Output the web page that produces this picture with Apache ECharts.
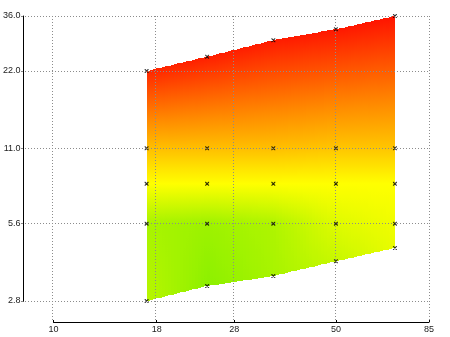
<!DOCTYPE html>
<html>
<head>
<meta charset="utf-8">
<script src="https://cdn.jsdelivr.net/npm/echarts@6/dist/echarts.min.js"></script>
<style>
  html, body { margin: 0; padding: 0; background: #fff; }
  #chart { width: 450px; height: 337px; }
</style>
</head>
<body>
<div id="chart"></div>
<script>
// Grid columns (x) and the rows of each column (y), both on log scales
const xValues = [17, 24, 35, 50, 70];
const yBottom = [2.8, 3.2, 3.5, 4.0, 4.5];
const yMiddle = [5.6, 8.0, 11.0];
const yTop = [22, 25, 29, 32, 36];

// Response level at each grid node (0 = low/green, 1 = high/red)
const zBottom = [0.13, 0.0, 0.08, 0.17, 0.27];
const z56 = [0.08, 0.05, 0.10, 0.24, 0.29];
const z80 = [0.333, 0.333, 0.333, 0.333, 0.333];
const z110 = [0.52, 0.52, 0.52, 0.50, 0.50];
const zTop = [0.95, 0.97, 0.98, 0.99, 1.0];

// Axis tick labels
const xTicks = [10, 18, 28, 50, 85];
const yTicks = [2.8, 5.6, 11.0, 22.0, 36.0];

const rampColors = ['#8cf000', '#ffff00', '#ff8c00', '#ff1400'];

// Layout of the offset axes
const plotLeft = 52, plotRight = 21, plotTop = 16, plotBottom = 36;
const yAxisGap = 30, xAxisGap = 21;
const plotW = 450 - plotLeft - plotRight;
const plotH = 337 - plotTop - plotBottom;
const xMin = xTicks[0], xMax = xTicks[xTicks.length - 1];
const yMin = yTicks[0], yMax = yTicks[yTicks.length - 1];
const xMinExt = Math.exp(Math.log(xMin) - yAxisGap / plotW * Math.log(xMax / xMin));
const yMinExt = Math.exp(Math.log(yMin) - xAxisGap / plotH * Math.log(yMax / yMin));

function hexToRgb(h) {
  return [parseInt(h.slice(1, 3), 16), parseInt(h.slice(3, 5), 16), parseInt(h.slice(5, 7), 16)];
}
const rampRgb = rampColors.map(hexToRgb);
function rampColor(z) {
  z = Math.max(0, Math.min(1, z));
  const pos = z * (rampRgb.length - 1);
  const i = Math.min(rampRgb.length - 2, Math.floor(pos));
  const f = pos - i;
  const a = rampRgb[i], b = rampRgb[i + 1];
  return 'rgb(' + a.map((c, k) => Math.round(c + (b[k] - c) * f)).join(',') + ')';
}

function columnRows(i) { return [yBottom[i]].concat(yMiddle, [yTop[i]]); }
function columnLevels(i) { return [zBottom[i], z56[i], z80[i], z110[i], zTop[i]]; }

// One custom item per cell between two neighbouring columns
const cellData = xValues.slice(0, -1).map((x, i) => [x, yBottom[i], i]);

// Grid nodes shown as markers
const nodeData = [];
xValues.forEach((x, i) => columnRows(i).forEach(y => nodeData.push([x, y])));

function renderCell(params, api) {
  const i = params.dataIndex;
  const L = columnRows(i).map(v => api.coord([xValues[i], v]));
  const R = columnRows(i + 1).map(v => api.coord([xValues[i + 1], v]));
  const ZL = columnLevels(i), ZR = columnLevels(i + 1);
  const x0 = L[0][0], x1 = R[0][0];
  const n = Math.max(1, Math.round((x1 - x0) / 3));
  const children = [];
  const SUB = 6;
  for (let k = 0; k < n; k++) {
    const t = (k + 0.5) / n;
    const sx = Math.round(x0 + (x1 - x0) * k / n);
    const ex = Math.round(x0 + (x1 - x0) * (k + 1) / n);
    const ys = L.map((p, j) => p[1] + (R[j][1] - p[1]) * t);
    const zs = ZL.map((z, j) => z + (ZR[j] - z) * t);
    const top = Math.round(ys[ys.length - 1]);
    const bot = Math.round(ys[0]);
    const h = bot - top;
    const stops = [];
    for (let j = ys.length - 1; j > 0; j--) {
      for (let s = 0; s < SUB; s++) {
        const f = s / SUB;
        const y = ys[j] + (ys[j - 1] - ys[j]) * f;
        const z = zs[j] + (zs[j - 1] - zs[j]) * f;
        stops.push({ offset: Math.max(0, Math.min(1, (y - top) / h)), color: rampColor(z) });
      }
    }
    stops.push({ offset: 1, color: rampColor(zs[0]) });
    children.push({
      type: 'rect',
      shape: { x: sx, y: top, width: ex - sx, height: h },
      style: { fill: new echarts.graphic.LinearGradient(0, 0, 0, 1, stops) },
      silent: true
    });
  }
  return { type: 'group', children: children };
}

const labelFont = { fontFamily: 'Liberation Sans, Arial, sans-serif', fontSize: 9, color: '#222' };
const dotted = { show: true, lineStyle: { color: '#8c8c8c', type: [1, 2], width: 1 } };

const chart = echarts.init(document.getElementById('chart'), null, { renderer: 'canvas' });
chart.setOption({
  animation: false,
  backgroundColor: '#fff',
  grid: [
    { left: plotLeft, right: plotRight, top: plotTop, bottom: plotBottom },
    { left: plotLeft - yAxisGap, right: plotRight, top: plotTop, bottom: plotBottom - xAxisGap }
  ],
  xAxis: [
    {
      gridIndex: 0, type: 'log', min: xMin, max: xMax, offset: xAxisGap,
      axisLine: { show: true, lineStyle: { color: '#000', width: 1 } },
      axisTick: { show: true, inside: true, length: 2, customValues: xTicks, lineStyle: { color: '#000' } },
      axisLabel: Object.assign({ customValues: xTicks, margin: 3, formatter: v => String(Math.round(v)) }, labelFont),
      splitLine: { show: false }, minorTick: { show: false }
    },
    {
      gridIndex: 1, type: 'log', min: xMinExt, max: xMax, z: 5,
      axisLine: { show: false }, axisLabel: { show: false },
      axisTick: { show: false, customValues: xTicks },
      splitLine: dotted
    }
  ],
  yAxis: [
    {
      gridIndex: 0, type: 'log', min: yMin, max: yMax, offset: yAxisGap,
      axisLine: { show: true, lineStyle: { color: '#000', width: 1 } },
      axisTick: { show: true, length: 2, customValues: yTicks, lineStyle: { color: '#000' } },
      axisLabel: Object.assign({ customValues: yTicks, margin: 3, formatter: v => v.toFixed(1) }, labelFont),
      splitLine: { show: false }, minorTick: { show: false }
    },
    {
      gridIndex: 1, type: 'log', min: yMinExt, max: yMax, z: 5,
      axisLine: { show: false }, axisLabel: { show: false },
      axisTick: { show: false, customValues: yTicks },
      splitLine: dotted
    }
  ],
  series: [
    {
      type: 'custom', xAxisIndex: 0, yAxisIndex: 0, clip: false, z: 2,
      renderItem: renderCell, data: cellData, silent: true
    },
    {
      type: 'scatter', xAxisIndex: 0, yAxisIndex: 0, z: 10, silent: true,
      symbol: 'path://M0,0L1,0L5,4L5,5L4,5L0,1ZM4,0L5,0L5,1L1,5L0,5L0,4Z',
      symbolSize: 4, itemStyle: { color: '#000' }, data: nodeData
    }
  ]
});
</script>
</body>
</html>
